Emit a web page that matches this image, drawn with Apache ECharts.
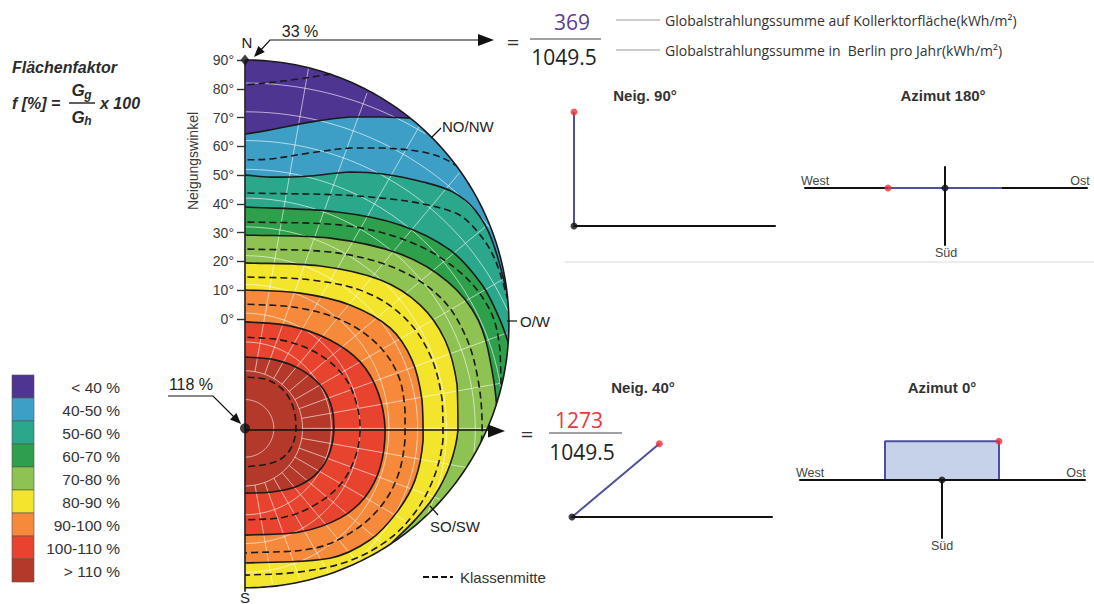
<!DOCTYPE html>
<html><head><meta charset="utf-8">
<script src="https://cdn.jsdelivr.net/npm/echarts@6/dist/echarts.min.js"></script>
<style>html,body{margin:0;padding:0;background:#fff}#c{width:1094px;height:604px}</style>
</head><body><div id="c"></div>
<script>
// ================= DATA =================
const classLabels = ['< 40 %','40-50 %','50-60 %','60-70 %','70-80 %','80-90 %','90-100 %','100-110 %','> 110 %'];
const classColors = ['#4e3592','#3e9fc6','#2ba78c','#2e9f4b','#8ec253','#f2e52c','#f6893a','#e8432f','#b4392a'];

// Isolines of the area factor.
// x = horizontal distance from the N–S axis (deg), y = tilt (deg; + north facing, − south facing)
const iso40  = [[0,64.3],[8.7,65.7],[22.6,68.4],[36.5,70.2],[48.0,70.2],[57.3,69.8],[65,69.2]];
const iso50  = [[0,50.0],[8.7,49.3],[22.6,49.7],[36.5,51.1],[48.0,50.4],[61.9,47.6],[72.3,44.1],[79.9,37.9],[85.8,27.5],[92,5]];
const iso60  = [[0,38.9],[32.0,37.2],[53.9,32.7],[71.2,24.0],[82.4,11.8],[88.6,-0.3],[92,-10]];
const iso70  = [[0,29.2],[29.5,28.1],[53.9,22.6],[70.5,12.9],[81.0,-0.3],[85.8,-17.7],[87.6,-35],[86,-50]];
const iso80  = [[0,19.5],[26.1,18.4],[46.9,13.6],[60.8,4.9],[69.5,-7.3],[73.7,-22.9],[74.0,-38.6],[71.2,-50.7],[66.0,-61.2],[59.1,-69.8],[50.4,-78.5],[42,-88]];
const iso90  = [[0,10.1],[19.1,9.0],[36.5,4.9],[50.4,-3.1],[58.0,-14.2],[61.5,-28.1],[61.9,-42.0],[59.1,-55.9],[52.8,-67.1],[43.4,-76.8],[29.5,-83.1],[0,-84.8]];
const iso100 = [[0,-1.0],[15.6,-2.4],[29.5,-7.3],[40.0,-14.9],[46.2,-25.4],[48.7,-38.6],[46.9,-51.8],[41.7,-61.9],[33.0,-69.2],[19.1,-74.0],[0,-75.1]];
const iso110 = [[0,-13.2],[10.4,-14.2],[19.1,-17.4],[26.1,-22.9],[29.9,-29.9],[30.9,-37.9],[29.5,-46.2],[25.4,-53.2],[18.4,-58.0],[9.4,-60.1],[0,-60.5]];
// class middles (dashed "Klassenmitte")
const mid35  = [[0,81.3],[15.6,83.0],[29.9,85.1],[36,86]];
const mid45  = [[0,55.3],[8.7,55.6],[22.6,57.7],[36.5,59.4],[48.0,59.4],[61.9,58.0],[70.2,55.2],[78,50]];
const mid55  = [[0,43.8],[43.4,42.4],[72.3,37.2],[81.7,29.2],[87.6,18.8],[93,0]];
const mid65  = [[0,33.7],[33.0,32.7],[57.3,26.8],[74.7,16.3],[85.1,3.1],[88.6,-10.8],[89,-30]];
const mid75  = [[0,24.3],[29.5,23.3],[52.1,17.7],[67.8,7.6],[76.5,-5.6],[81.0,-21.2],[82.4,-38.6],[79.9,-52.5],[74.7,-62.9]];
const mid85  = [[0,14.6],[22.6,13.6],[41.7,9.4],[55.6,0.3],[64.3,-12.5],[68.5,-28.1],[68.8,-42.0],[65.3,-55.9],[58.4,-68.1],[48.7,-77.5],[35,-84.5],[18,-88],[0,-89]];
const mid95  = [[0,5.2],[19.1,3.8],[34.8,-1.0],[46.2,-9.0],[53.2,-19.5],[55.6,-31.6],[55.6,-42.0],[53.2,-54.2],[47.6,-64.6],[38.2,-73.3],[24.3,-79.6],[0,-81.3]];
const mid105 = [[0,-6.3],[13.9,-7.6],[26.1,-12.5],[34.8,-20.5],[38.9,-29.9],[40.0,-38.6],[38.2,-48.3],[33.0,-57.7],[24.3,-64.6],[13.9,-68.8],[0,-69.8]];
const mid115 = [[0,-20.2],[8.0,-21.2],[13.9,-25.4],[17.0,-31.6],[17.7,-38.6],[15.6,-45.5],[10.4,-49.7],[0,-51.4]];

const boundaries = [iso40, iso50, iso60, iso70, iso80, iso90, iso100, iso110];
const middles = [mid35, mid45, mid55, mid65, mid75, mid85, mid95, mid105, mid115];

const pointNorth = [0, 90];     // 33 %
const pointOptimum = [0, -38];  // 118 %
const factorLabels = ['33 %', '118 %'];
const collectorSums = [369, 1273];
const berlinSum = 1049.5;
const panelTilts = [90, 40];
const panelAzimuths = [180, 0];
const footprintDepth = [0, 0.34];
const netRadii = [10,20,30,40,50,60,70,80,90,100,110,120,130];
const netSpokes = [0,10,20,30,40,50,60,70,80,90,100,110,120,130,140,150,160,170,180];

// ================= GEOMETRY / STYLE =================
const U = 2.878;                 // px per degree
const RIM_R = 91.7, RIM_C = -1.7;
const SM = 0.35;
const SANS = '"Liberation Sans", Arial, sans-serif';
const MY = '"Open Sans", sans-serif';
const rad = d => d * Math.PI / 180;

function rimArc(step) {
  const pts = [];
  for (let a = 0; a <= 180; a += step) pts.push([RIM_R * Math.sin(rad(a)), RIM_C + RIM_R * Math.cos(rad(a))]);
  return pts;
}
function inDisc(p) { return p[0] >= 0 && p[0]*p[0] + (p[1]-RIM_C)*(p[1]-RIM_C) <= RIM_R*RIM_R; }
function runs(samples) {
  const out = []; let cur = [];
  for (const p of samples) { if (inDisc(p)) cur.push(p); else { if (cur.length > 1) out.push(cur); cur = []; } }
  if (cur.length > 1) out.push(cur);
  return out;
}
function strokePts(iso) {
  const f = iso[0], l = iso[iso.length-1];
  const pts = [[-3, f[1]], ...iso];
  if (l[0] === 0) pts.push([-3, l[1]]);
  return pts;
}
function fillPts(iso) {
  const pts = strokePts(iso);
  const l = iso[iso.length-1];
  if (l[0] !== 0) pts.push([97, l[1]], [97, -97], [-3, -97]);
  return pts;
}

const bandLayers = [{pts: rimArc(1), color: classColors[0], smooth: 0}]
  .concat(boundaries.map((b, i) => ({pts: fillPts(b), color: classColors[i+1], smooth: SM})));
const isoLayers = boundaries.map(b => ({pts: strokePts(b), dashed: false}))
  .concat(middles.map(m => ({pts: strokePts(m), dashed: true})));

const bottomY = RIM_C - RIM_R;
const maskPts = [[-5,100],[100,100],[100,-100],[-5,-100], ...rimArc(1).reverse(), [0,bottomY], [-5,-100]];

const netPolys = [];
netRadii.forEach(r => {
  const s = []; for (let a = 0; a <= 180; a += 1.5) s.push([r*Math.sin(rad(a)), pointOptimum[1] + r*Math.cos(rad(a))]);
  netPolys.push(...runs(s));
});
netSpokes.forEach(a => {
  const s = []; for (let r = 20; r <= 200; r += 1) s.push([r*Math.sin(rad(a)), pointOptimum[1] + r*Math.cos(rad(a))]);
  netPolys.push(...runs(s));
});

// ================= CHART =================
const chart = echarts.init(document.getElementById('c'), null, {renderer: 'svg', width: 1094, height: 604});

function panelX(gi, min, max, onZero, z) {
  return {gridIndex: gi, type: 'value', min, max, z: z || 0,
    axisLine: {show: true, onZero: onZero, lineStyle: {color: '#111', width: 2}},
    axisTick: {show: false}, axisLabel: {show: false}, splitLine: {show: false}};
}

const grids = [
  {left: 245, top: 319 - 95*U, width: 95*U, height: 190*U},          // 0 diagram
  {left: 245, top: 319 - 90*U, width: 20, height: 90*U},             // 1 tilt scale
  {left: 574, top: 112, width: 201, height: 114},                     // 2 Neig 90
  {left: 805, top: 167, width: 282, height: 78},                      // 3 Azimut 180
  {left: 572, top: 403, width: 200, height: 114},                     // 4 Neig 40
  {left: 800, top: 480, width: 285, height: 58}                       // 5 Azimut 0
];
const L = 114;
const xAxes = [
  {gridIndex: 0, type: 'value', min: 0, max: 95, show: false},
  {gridIndex: 1, type: 'value', min: 0, max: 1, show: false},
  panelX(2, 0, 201/L, false),
  panelX(3, -140/L, 142/L, true),
  panelX(4, 0, 200/L, false),
  panelX(5, -142/L, 143/L, true, 3)
];
const yAxes = [
  {gridIndex: 0, type: 'value', min: -95, max: 95, show: false},
  {gridIndex: 1, type: 'value', min: 0, max: 90, interval: 10, z: 10,
    axisLine: {show: false}, splitLine: {show: false},
    axisTick: {show: true, length: 8, lineStyle: {color: '#333', width: 1.4}},
    axisLabel: {formatter: v => v + '°', fontSize: 14, color: '#3a3a3a', fontFamily: SANS, margin: 11}},
  {gridIndex: 2, type: 'value', min: 0, max: 1, show: false},
  panelX(3, -57/L, 21/L, true),
  {gridIndex: 4, type: 'value', min: 0, max: 1, show: false},
  panelX(5, -58/L, 0, true)
];

const series = [
  { type: 'custom', xAxisIndex: 0, yAxisIndex: 0, z: 1, silent: true, clip: false,
    data: bandLayers.map((_, i) => [i, 0]),
    renderItem: (params, api) => {
      const Ly = bandLayers[params.dataIndex];
      const pts = Ly.pts.map(p => api.coord(p));
      const shape = {points: pts};
      if (Ly.smooth) { shape.smooth = Ly.smooth; shape.smoothConstraint = [pts[0], pts[0]]; }
      return {type: 'polygon', shape, style: {fill: Ly.color}};
    }},
  { type: 'custom', xAxisIndex: 0, yAxisIndex: 0, z: 2, silent: true, clip: false,
    data: [[0, 0]],
    renderItem: (params, api) => ({type: 'group', children: netPolys.map(pl => ({
      type: 'polyline', shape: {points: pl.map(p => api.coord(p))},
      style: {stroke: 'rgba(255,255,255,0.6)', lineWidth: 1, fill: null}}))})},
  { type: 'custom', xAxisIndex: 0, yAxisIndex: 0, z: 3, silent: true, clip: false,
    data: isoLayers.map((_, i) => [i, 0]),
    renderItem: (params, api) => {
      const Ly = isoLayers[params.dataIndex];
      const pts = Ly.pts.map(p => api.coord(p));
      const style = {stroke: '#1b1b1b', lineWidth: 1.6, fill: null};
      if (Ly.dashed) style.lineDash = [7, 4];
      return {type: 'polyline', shape: {points: pts, smooth: SM, smoothConstraint: [pts[0], pts[0]]}, style};
    }},
  { type: 'custom', xAxisIndex: 0, yAxisIndex: 0, z: 4, silent: true, clip: false,
    data: [[0, 0]],
    renderItem: (params, api) => ({type: 'polygon', shape: {points: maskPts.map(p => api.coord(p))}, style: {fill: '#fff'}})},
  { type: 'custom', xAxisIndex: 0, yAxisIndex: 0, z: 5, silent: true, clip: false,
    data: [[0, 0]],
    renderItem: (params, api) => ({type: 'group', children: [
      {type: 'polyline', shape: {points: rimArc(1).map(p => api.coord(p))}, style: {stroke: '#1a1a1a', lineWidth: 1.6, fill: null}},
      {type: 'line', shape: {x1: api.coord([0, 90])[0], y1: api.coord([0, 90])[1], x2: api.coord([0, bottomY])[0], y2: api.coord([0, bottomY])[1] + 4}, style: {stroke: '#1a1a1a', lineWidth: 1.6}}
    ]})},
  { type: 'scatter', xAxisIndex: 0, yAxisIndex: 0, z: 6, silent: true, clip: false,
    data: [pointNorth], symbol: 'diamond', symbolSize: [9, 11], itemStyle: {color: '#111'}},
  { type: 'scatter', xAxisIndex: 0, yAxisIndex: 0, z: 6, silent: true, clip: false,
    data: [pointOptimum], symbol: 'circle', symbolSize: 10, itemStyle: {color: '#111'}}
];

// side panels (tilt sketches and azimuth footprints)
const tiltGrids = [2, 4], aziGrids = [3, 5];
panelTilts.forEach((t, i) => {
  const g = tiltGrids[i];
  const end = [Math.cos(rad(t)), Math.sin(rad(t))];
  series.push({type: 'line', xAxisIndex: g, yAxisIndex: g, clip: false, silent: true, symbol: 'none', z: 3,
    data: [[0, 0], end], lineStyle: {color: '#50509c', width: 2}});
  series.push({type: 'scatter', xAxisIndex: g, yAxisIndex: g, clip: false, silent: true, z: 5,
    data: [end], symbolSize: 7, itemStyle: {color: '#f0303c'}});
  series.push({type: 'scatter', xAxisIndex: g, yAxisIndex: g, clip: false, silent: true, z: 5,
    data: [[0, 0]], symbolSize: 7, itemStyle: {color: '#111'}});
});
panelAzimuths.forEach((az, i) => {
  const g = aziGrids[i], d = footprintDepth[i];
  const s = Math.cos(rad(az));
  const foot = d > 0 ? [[-0.5, 0], [-0.5, d], [0.5, d], [0.5, 0]] : [[-0.5, 0], [0.5, 0]];
  const ser = {type: 'line', xAxisIndex: g, yAxisIndex: g, clip: false, silent: true, symbol: 'none', z: 2,
    data: foot, lineStyle: {color: '#4d519c', width: 2}};
  if (d > 0) ser.areaStyle = {color: '#c5d2ea', opacity: 1};
  series.push(ser);
  series.push({type: 'scatter', xAxisIndex: g, yAxisIndex: g, clip: false, silent: true, z: 5,
    data: [[0.5 * s, d]], symbolSize: 7, itemStyle: {color: '#f0303c'}});
  series.push({type: 'scatter', xAxisIndex: g, yAxisIndex: g, clip: false, silent: true, z: 5,
    data: [[0, 0]], symbolSize: 7, itemStyle: {color: '#111'}});
});

// ================= TEXT & ANNOTATIONS =================
function T(x, y, text, size, o) {
  o = o || {};
  return {type: 'text', x, y, z: 50, silent: true, rotation: o.rot || 0,
    style: {text, fill: o.color || '#333', font: (o.weight || '') + ' ' + size + 'px ' + (o.family || SANS),
      align: o.align || 'center', verticalAlign: 'middle', textAlign: o.align || 'center', textVerticalAlign: 'middle'}};
}
function Ln(x1, y1, x2, y2, o) {
  o = o || {};
  const st = {stroke: o.color || '#111', lineWidth: o.w || 1.3};
  if (o.dash) st.lineDash = o.dash;
  return {type: 'line', z: 50, silent: true, shape: {x1, y1, x2, y2}, style: st};
}
function Arrow(tip, from, len, half) {
  const dx = tip[0] - from[0], dy = tip[1] - from[1], n = Math.hypot(dx, dy);
  const ux = dx / n, uy = dy / n, bx = tip[0] - ux * len, by = tip[1] - uy * len;
  return {type: 'polygon', z: 50, silent: true, shape: {points: [tip, [bx - uy * half, by + ux * half], [bx + uy * half, by - ux * half]]}, style: {fill: '#111'}};
}

const graphic = [];
const FC = '#2b2b2b';
// formula
graphic.push(T(12, 67, 'Flächenfaktor', 16, {align: 'left', weight: 'italic bold', color: FC}));
graphic.push(T(12, 103, 'f [%] =', 16, {align: 'left', weight: 'italic bold', color: FC}));
graphic.push(T(78, 90, 'G', 17, {weight: 'italic bold', color: FC}));
graphic.push(T(88, 95, 'g', 12, {weight: 'italic bold', color: FC}));
graphic.push(Ln(69, 103, 95, 103, {w: 1.5, color: FC}));
graphic.push(T(78, 117, 'G', 17, {weight: 'italic bold', color: FC}));
graphic.push(T(88, 121, 'h', 12, {weight: 'italic bold', color: FC}));
graphic.push(T(100, 103, 'x 100', 16, {align: 'left', weight: 'italic bold', color: FC}));
graphic.push(T(193, 161, 'Neigungswinkel', 14, {rot: Math.PI / 2, color: '#3a3a3a'}));

// legend
classLabels.forEach((lab, i) => {
  graphic.push({type: 'rect', z: 50, silent: true, shape: {x: 12, y: 375 + i * 23, width: 22, height: 23},
    style: {fill: classColors[i], stroke: '#555', lineWidth: 0.6}});
  graphic.push(T(120, 375 + i * 23 + 12, lab, 15.5, {align: 'right', color: '#333'}));
});

// compass labels
graphic.push(T(247, 42, 'N', 15, {color: '#222'}));
graphic.push(T(245, 597, 'S', 15, {color: '#222'}));
graphic.push(T(442, 126, 'NO/NW', 15, {align: 'left', color: '#222'}));
graphic.push(Ln(431, 138, 441, 128, {w: 1.2}));
graphic.push(T(520, 321, 'O/W', 15, {align: 'left', color: '#222'}));
graphic.push(Ln(507, 321, 517, 321, {w: 1.2}));
graphic.push(T(430, 526, 'SO/SW', 15, {align: 'left', color: '#222'}));
graphic.push(Ln(430, 506, 438, 515, {w: 1.2}));
graphic.push(Ln(423, 577, 453, 577, {w: 1.8, dash: [6, 3]}));
graphic.push(T(460, 577, 'Klassenmitte', 15, {align: 'left', color: '#333'}));

// 33 % annotation
graphic.push(T(300, 31, factorLabels[0], 16, {color: '#222'}));
graphic.push({type: 'polyline', z: 50, silent: true, shape: {points: [[259, 52], [270, 40], [480, 40]]}, style: {stroke: '#111', lineWidth: 1.2, fill: null}});
graphic.push(Arrow([254, 57], [270, 40], 11, 4.5));
graphic.push(Arrow([494, 40], [470, 40], 16, 6));
graphic.push(T(513, 41, '=', 22, {family: MY, color: '#333'}));
graphic.push(T(572, 22, String(collectorSums[0]), 21, {family: MY, color: '#5b3d96'}));
graphic.push(Ln(530, 39, 601, 39, {w: 1.2, color: '#444'}));
graphic.push(T(564, 57, String(berlinSum), 21, {family: MY, color: '#222'}));
graphic.push(Ln(616, 20, 660, 20, {w: 1, color: '#999'}));
graphic.push(Ln(616, 50, 660, 50, {w: 1, color: '#999'}));
graphic.push(T(665, 20, 'Globalstrahlungssumme auf Kollerktorfläche(kWh/m²)', 14, {align: 'left', family: MY, color: '#333'}));
graphic.push(T(665, 50, 'Globalstrahlungssumme in  Berlin pro Jahr(kWh/m²)', 14, {align: 'left', family: MY, color: '#333'}));

// 118 % annotation
graphic.push(T(191, 384, factorLabels[1], 16, {color: '#222'}));
graphic.push({type: 'polyline', z: 50, silent: true, shape: {points: [[168, 396], [213, 396], [236, 419]]}, style: {stroke: '#111', lineWidth: 1.2, fill: null}});
graphic.push(Arrow([241, 424], [213, 396], 11, 4.5));
graphic.push(Ln(245, 430, 492, 430, {w: 1.3}));
graphic.push(Arrow([505, 431], [480, 431], 17, 6.5));
graphic.push(T(527, 433, '=', 22, {family: MY, color: '#333'}));
graphic.push(T(579, 420, String(collectorSums[1]), 21, {family: MY, color: '#e8383d'}));
graphic.push(Ln(549, 433, 622, 433, {w: 1.2, color: '#444'}));
graphic.push(T(582, 452, String(berlinSum), 21, {family: MY, color: '#222'}));

// panels
graphic.push(Ln(565, 262, 1094, 262, {w: 1.5, color: '#e6e6e6'}));
graphic.push(T(645, 95, 'Neig. ' + panelTilts[0] + '°', 15, {weight: 'bold', color: '#333'}));
graphic.push(T(943, 95, 'Azimut ' + panelAzimuths[0] + '°', 15, {weight: 'bold', color: '#333'}));
graphic.push(T(643, 387, 'Neig. ' + panelTilts[1] + '°', 15, {weight: 'bold', color: '#333'}));
graphic.push(T(942, 387, 'Azimut ' + panelAzimuths[1] + '°', 15, {weight: 'bold', color: '#333'}));
graphic.push(T(815, 181, 'West', 12.5, {color: '#444'}));
graphic.push(T(1080, 181, 'Ost', 12.5, {color: '#444'}));
graphic.push(T(946, 253, 'Süd', 12.5, {color: '#444'}));
graphic.push(T(810, 473, 'West', 12.5, {color: '#444'}));
graphic.push(T(1076, 473, 'Ost', 12.5, {color: '#444'}));
graphic.push(T(942, 546, 'Süd', 12.5, {color: '#444'}));

chart.setOption({
  animation: false,
  backgroundColor: '#fff',
  grid: grids, xAxis: xAxes, yAxis: yAxes,
  series, graphic
});
</script></body></html>
